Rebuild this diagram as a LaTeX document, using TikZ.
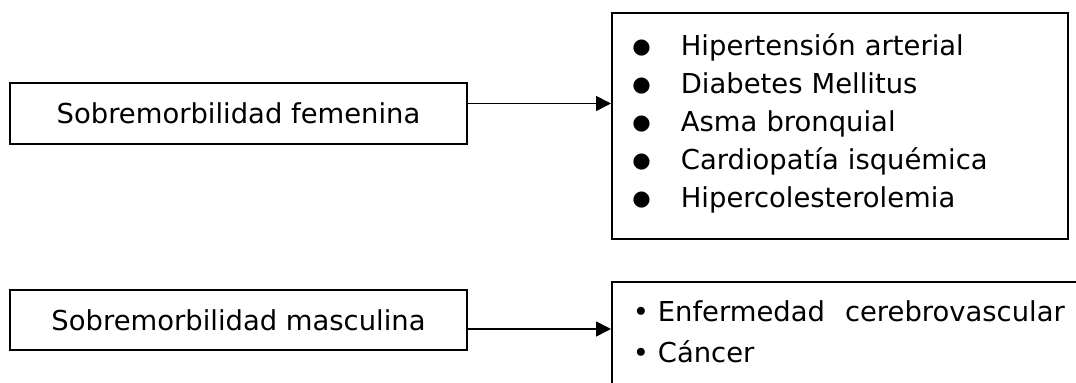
\documentclass[tikz,border=0pt]{standalone}
\usepackage{fontspec}
\setmainfont{DejaVu Sans}
\usetikzlibrary{arrows.meta}

\newcommand{\femdot}{\makebox[1.38cm][l]{\hspace{0.41cm}\raisebox{0.05cm}{\fontsize{12}{12}\selectfont ●}}}
\newcommand{\mascdot}{\makebox[0.92cm][l]{\hspace{0.42cm}•}}

\begin{document}
\begin{tikzpicture}[
    box/.style={draw, line width=1pt, inner sep=0pt, font=\fontsize{15.6}{21.6}\selectfont},
    link/.style={-{Triangle[length=3mm, width=3mm]}, line width=0.9pt}
]
    \path[use as bounding box, clip] (0, 0) rectangle (21.52, -7.66);
    \node[box, minimum width=9.14cm, minimum height=1.22cm] (fem) at (4.77, -2.27)
        {Sobremorbilidad femenina};
    \node[box, minimum width=9.14cm, minimum height=1.2cm] (masc) at (4.77, -6.4)
        {Sobremorbilidad masculina};
    \node[box, anchor=north west, text width=9.12cm, align=left,
          text height=0.86cm, text depth=3.66cm] (femlist) at (12.22, -0.24) {
        \femdot Hipertensión arterial\\
        \femdot Diabetes Mellitus\\
        \femdot Asma bronquial\\
        \femdot Cardiopatía isquémica\\
        \femdot Hipercolesterolemia};
    \node[box, anchor=north west, text width=10cm, align=left,
          text height=0.8cm, text depth=2.5cm,
          font=\fontsize{15.6}{23.3}\selectfont] (masclist) at (12.22, -5.62) {
        \mascdot Enfermedad\hspace{0.4cm}cerebrovascular\\
        \mascdot Cáncer};
    \draw[link] ([yshift=2mm]fem.east) -- ([yshift=2mm]fem.east -| femlist.west);
    \draw[link] ([yshift=-1.8mm]masc.east) -- ([yshift=-1.8mm]masc.east -| masclist.west);
\end{tikzpicture}
\end{document}
